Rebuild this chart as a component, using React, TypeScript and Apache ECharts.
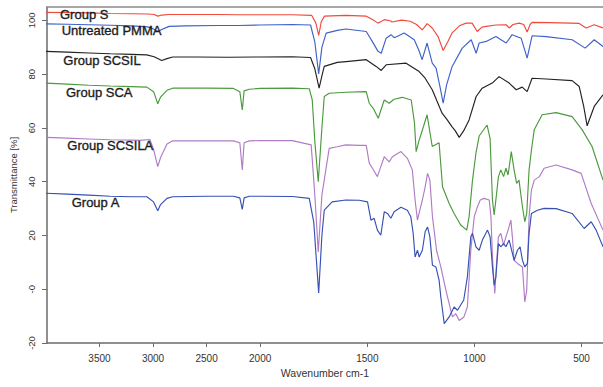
import React, { useEffect, useRef } from 'react';
import * as echarts from 'echarts';

const xTickValues = [3500, 3000, 2500, 2000, 1500, 1000, 500];
const yTickValues = [-20, 0, 20, 40, 60, 80, 100];

const seriesNames = ['Group S', 'Untreated PMMA', 'Group SCSIL', 'Group SCA', 'Group SCSILA', 'Group A'];
const seriesColors = ['#f04a3c', '#3d62c9', '#222222', '#4b9a3d', '#b07cc6', '#3551b3'];

// [wavenumber cm-1, transmittance %]
const groupS = [
  [4000, 103.0], [3800, 102.9], [3600, 102.8], [3400, 102.6], [3200, 102.5], [3050, 102.4], [2990, 102.2],
  [2955, 101.6], [2920, 102.0], [2850, 102.2], [2600, 102.2], [2400, 102.2], [2200, 102.1], [2000, 102.1],
  [1850, 102.1], [1760, 101.9], [1740, 99], [1727, 94.4], [1715, 99.5], [1700, 101.6], [1600, 101.9],
  [1505, 101.6], [1480, 100.5], [1450, 99.0], [1435, 99.6], [1421, 100.3], [1390, 99.8], [1385, 99.4],
  [1340, 100.1], [1300, 99.7], [1270, 98.5], [1244, 96.5], [1235, 97.3], [1221, 98.8], [1197, 97.2],
  [1170, 94], [1146, 88.8], [1125, 92], [1104, 95.4], [1070, 98], [1039, 99], [1011, 99], [987, 95.9],
  [965, 97.5], [945, 97.8], [900, 98.3], [852, 98.4], [838, 97.2], [820, 98.5], [791, 99], [770, 98.5],
  [754, 95.7], [740, 98.5], [731, 99.3], [650, 99.2], [550, 99], [511, 98.9], [479, 97.2], [441, 98.4],
  [400, 97.2],
];

const untreatedPMMA = [
  [4000, 98.7], [3800, 98.6], [3600, 98.4], [3400, 98.2], [3200, 98.0], [3050, 97.6], [2995, 96.8],
  [2952, 95.9], [2920, 96.6], [2850, 97.8], [2700, 98.0], [2400, 98.1], [2200, 98.1], [2000, 98.3],
  [1850, 98.5], [1765, 98.3], [1745, 92], [1727, 80.1], [1712, 90], [1692, 95.3], [1640, 96.3],
  [1600, 96.8], [1505, 95.9], [1477, 92.2], [1450, 88.5], [1435, 87.8], [1412, 93.4], [1389, 94.7],
  [1375, 93.6], [1361, 94], [1328, 95.3], [1281, 92.8], [1260, 89], [1244, 85.4], [1221, 91.6],
  [1197, 84.1], [1179, 82.3], [1160, 75], [1146, 69.2], [1130, 76], [1104, 82.9], [1057, 89.7],
  [1015, 92.8], [992, 87.8], [978, 91.6], [945, 92.2], [900, 94], [852, 91.6], [824, 94.7], [782, 93.4],
  [754, 86], [731, 94.3], [665, 94], [544, 92.8], [483, 89.7], [441, 92.8], [400, 90.3],
];

const groupSCSIL = [
  [4000, 88.5], [3800, 88.2], [3600, 87.9], [3400, 87.6], [3200, 87.4], [3058, 87.2], [2990, 86.5],
  [2919, 85.1], [2870, 85.8], [2817, 86.4], [2600, 86.4], [2300, 86.3], [2000, 86.4], [1850, 86.5],
  [1765, 86.2], [1745, 82], [1725, 74.8], [1710, 80], [1701, 82.9], [1640, 84.4], [1599, 84.7],
  [1505, 85.4], [1459, 82.9], [1435, 81.4], [1412, 83.5], [1319, 84.1], [1258, 81], [1230, 78.5],
  [1197, 74.2], [1175, 70], [1151, 65.5], [1127, 63], [1105, 60.5], [1090, 59], [1071, 56.5], [1050, 59],
  [1025, 63], [992, 71.7], [964, 74.8], [917, 76.7], [885, 79.1], [838, 76.7], [805, 74.2], [777, 75.2],
  [754, 73.5], [731, 78.5], [665, 78.2], [544, 77.6], [511, 75.4], [490, 68], [474, 60.8], [441, 68],
  [400, 72.3],
];

const groupSCA = [
  [4000, 76.7], [3800, 76.3], [3600, 75.9], [3400, 75.6], [3200, 75.4], [3058, 75.2], [2995, 73.5],
  [2956, 69], [2930, 71.5], [2870, 74], [2817, 74.8], [2500, 74.8], [2250, 74.7], [2190, 73.5],
  [2167, 66.7], [2150, 73.8], [2102, 74.4], [2000, 74.7], [1850, 74.8], [1771, 74.6], [1757, 70.4],
  [1745, 55], [1729, 40], [1712, 60], [1701, 71.7], [1678, 72.9], [1600, 73.3], [1505, 73.5],
  [1491, 69.2], [1470, 67], [1449, 63.6], [1421, 70.4], [1398, 69.2], [1375, 70.7], [1337, 71.4],
  [1295, 70.4], [1280, 62], [1272, 51.2], [1258, 55.5], [1240, 60], [1221, 64.9], [1197, 53.1],
  [1165, 54.5], [1149, 38.1], [1118, 31.9], [1095, 28.2], [1064, 23.9], [1036, 22], [1025, 27],
  [1009, 40.6], [993, 50.6], [978, 57], [941, 61.1], [927, 56], [916, 33.2], [908, 27.6], [900, 33.2],
  [888, 41.9], [877, 44.4], [864, 41.9], [853, 45], [843, 42.5], [828, 51.2], [815, 44.4], [803, 39.4],
  [792, 40.6], [776, 30.7], [765, 25.1], [756, 28.2], [745, 44.4], [734, 51.8], [721, 59.3], [684, 64.9],
  [619, 65.7], [544, 64.2], [497, 59.3], [451, 53.1], [400, 40.6],
];

const groupSCSILA = [
  [4000, 56.5], [3800, 56.2], [3600, 55.9], [3400, 55.6], [3200, 55.5], [3123, 55.4], [3030, 55.7],
  [2995, 52], [2956, 45.6], [2930, 49], [2870, 54], [2817, 55.2], [2500, 55.2], [2250, 55.2],
  [2190, 54.5], [2167, 44.4], [2150, 54.5], [2102, 55.2], [2000, 55.3], [1850, 55.3], [1762, 53.7],
  [1745, 35], [1729, 13.9], [1712, 35], [1678, 52.4], [1641, 53], [1600, 53.7], [1538, 53.5],
  [1505, 53.5], [1491, 46.9], [1476, 45], [1453, 41.9], [1437, 45.6], [1421, 49.3], [1398, 47.4],
  [1383, 49.3], [1343, 51.2], [1313, 48.7], [1290, 44.4], [1277, 33.2], [1266, 25.7], [1255, 29.4],
  [1243, 33.2], [1230, 38.1], [1219, 43.1], [1208, 40.6], [1196, 27], [1177, 14.5], [1157, 8.3],
  [1133, -0.4], [1103, -10.3], [1087, -9.1], [1071, -11.6], [1049, -10.3], [1033, -6.6], [1017, 14.5],
  [1001, 27], [986, 30.7], [973, 33.2], [955, 33.8], [931, 33.2], [923, 27], [916, 12], [905, -1.6],
  [896, 10.8], [888, 19.5], [877, 20.8], [864, 16.4], [853, 19.5], [843, 22], [830, 25.7], [823, 19.5],
  [815, 10.8], [799, 9.6], [776, 8.3], [765, -4.7], [756, -0.4], [745, 27], [734, 36.9], [721, 40.6],
  [697, 41.9], [675, 45], [619, 46.2], [544, 44.4], [502, 43.1], [455, 31.9], [400, 22],
];

const groupA = [
  [4000, 35.7], [3800, 35.4], [3600, 35.0], [3400, 34.6], [3200, 34.4], [3058, 34.4], [2995, 32.5],
  [2956, 29.2], [2930, 31.5], [2870, 33.8], [2817, 34.4], [2500, 34.6], [2250, 34.6], [2190, 34],
  [2167, 29.7], [2150, 34], [2102, 34.6], [2000, 34.6], [1850, 34.5], [1771, 33.8], [1750, 25],
  [1727, -1.4], [1712, 20], [1701, 29.4], [1664, 32.5], [1600, 33.2], [1538, 33.1], [1499, 32.5],
  [1483, 25.7], [1468, 26.4], [1453, 22], [1437, 20.1], [1421, 28.8], [1406, 28.2], [1390, 26.4],
  [1375, 28.8], [1343, 30.5], [1313, 29.4], [1297, 27], [1286, 20.8], [1277, 12], [1266, 14.5],
  [1258, 12], [1243, 14.5], [1230, 21.4], [1219, 23.2], [1208, 19.5], [1196, 8.9], [1180, 8.3],
  [1165, 3.4], [1157, -2.9], [1141, -12.8], [1118, -10.3], [1095, -6.6], [1079, -7.8], [1050, -4],
  [1033, 4.6], [1017, 19.5], [1009, 20.8], [993, 15.8], [978, 14.5], [963, 18.3], [939, 22],
  [927, 19.5], [916, 8.3], [908, 1.5], [900, 4.6], [888, 17], [877, 15.8], [864, 17], [853, 15.8],
  [838, 18.3], [815, 10.8], [799, 14.5], [787, 15.8], [776, 10.8], [765, 8.3], [753, 9.6], [745, 20.8],
  [734, 28.2], [706, 29.4], [675, 30.1], [619, 30], [544, 28.2], [488, 22.6], [455, 25.1], [432, 22],
  [400, 15.8],
];

const allSeries = [groupS, untreatedPMMA, groupSCSIL, groupSCA, groupSCSILA, groupA];

// the wavenumber axis is compressed by half above 2000 cm-1
const BREAK = 2000;
const toU = (w: number) => (w <= BREAK ? w : BREAK + (w - BREAK) / 2);
const fromU = (u: number) => (u <= BREAK ? u : BREAK + (u - BREAK) * 2);

const FONT = '"Liberation Sans", Arial, sans-serif';
const AXIS_COLOR = '#6b6b6b';
const TEXT_COLOR = '#333333';

// label positions (px) inside plot
const labelPos = [
  [60, 14.8], [61.7, 30.8], [63.3, 60.5], [66, 92.8], [67.3, 145.5], [71.7, 202.8],
];

export default function App() {
  const ref = useRef<HTMLDivElement>(null);
  useEffect(() => {
    document.body.style.margin = '0';
    if (!ref.current) return;
    const chart = echarts.init(ref.current, null, { renderer: 'svg' });
    const xMin = toU(400);
    const xMax = toU(3990);
    const option: any = {
      animation: false,
      backgroundColor: '#ffffff',
      grid: { left: 47, right: 0, top: 7, bottom: 44, containLabel: false },
      xAxis: [
        {
          type: 'value',
          inverse: true,
          min: xMin,
          max: xMax,
          axisLine: { show: true, onZero: false, lineStyle: { color: AXIS_COLOR, width: 1.5 } },
          axisTick: {
            show: true,
            length: 4,
            customValues: xTickValues.map(toU),
            lineStyle: { color: AXIS_COLOR, width: 1 },
          },
          axisLabel: {
            customValues: xTickValues.map(toU),
            formatter: (v: number) => String(Math.round(fromU(v))),
            color: TEXT_COLOR,
            fontSize: 10,
            fontFamily: FONT,
            margin: 10,
          },
          splitLine: { show: false },
          name: 'Wavenumber cm-1',
          nameLocation: 'middle',
          nameGap: 24,
          nameTextStyle: { color: TEXT_COLOR, fontSize: 10.5, fontFamily: FONT },
        },
        {
          type: 'value',
          position: 'top',
          inverse: true,
          min: xMin,
          max: xMax,
          axisLine: { show: true, onZero: false, lineStyle: { color: '#8a8a8a', width: 1.5 } },
          axisTick: { show: false },
          axisLabel: { show: false },
          splitLine: { show: false },
        },
      ],
      yAxis: {
        type: 'value',
        min: -20,
        max: 105,
        axisLine: { show: true, onZero: false, lineStyle: { color: AXIS_COLOR, width: 1.5 } },
        axisTick: {
          show: true,
          length: 5,
          customValues: yTickValues,
          lineStyle: { color: AXIS_COLOR, width: 1 },
        },
        axisLabel: {
          customValues: yTickValues,
          rotate: 90,
          formatter: (v: number) => (v === 0 ? '-0' : String(v)),
          color: TEXT_COLOR,
          fontSize: 9.5,
          fontFamily: FONT,
          margin: 11,
        },
        splitLine: { show: false },
        name: 'Transmittance [%]',
        nameLocation: 'middle',
        nameGap: 29,
        nameTextStyle: { color: TEXT_COLOR, fontSize: 9.5, fontFamily: FONT },
      },
      series: allSeries.map((arr, i) => ({
        type: 'line',
        name: seriesNames[i],
        xAxisIndex: 0,
        showSymbol: false,
        symbol: 'none',
        lineStyle: { color: seriesColors[i], width: 1.15 },
        itemStyle: { color: seriesColors[i] },
        data: arr.map(([w, t]) => [toU(w), t]),
        z: 2,
      })),
      graphic: seriesNames.map((name, i) => ({
        type: 'text',
        x: labelPos[i][0],
        y: labelPos[i][1],
        z: 100,
        style: {
          text: name,
          fill: '#1c1c1c',
          stroke: '#1c1c1c',
          lineWidth: 0.35,
          font: `13px ${FONT}`,
          textVerticalAlign: 'middle',
          verticalAlign: 'middle',
        },
      })),
    };
    chart.setOption(option);
    return () => chart.dispose();
  }, []);
  return (
    <div
      ref={ref}
      style={{ position: 'fixed', left: 0, top: 0, width: 603, height: 387, background: '#fff' }}
    />
  );
}
